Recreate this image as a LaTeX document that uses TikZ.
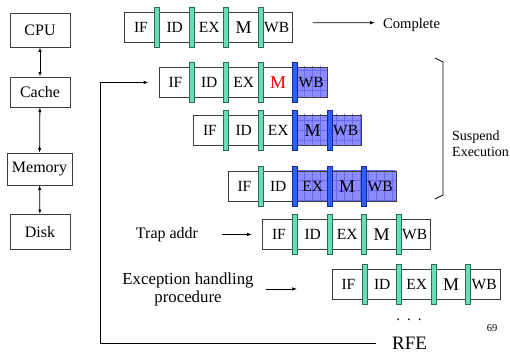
\documentclass[tikz,border=0pt]{standalone}
\usepackage{fontspec}
\setmainfont{Liberation Serif}
\newfontfamily\tnr{Liberation Serif}
\usetikzlibrary{arrows.meta}

\definecolor{latchfill}{RGB}{102,221,180}
\definecolor{latchdraw}{RGB}{40,110,85}
\definecolor{stallbar}{RGB}{45,95,250}
\definecolor{stalldraw}{RGB}{20,40,150}
\definecolor{stallfill}{RGB}{140,140,255}
\definecolor{stallgrid}{RGB}{105,105,235}
\definecolor{edge}{RGB}{60,60,60}

\newcommand\sz[1]{\tnr\fontsize{#1}{1.15\dimexpr#1pt\relax}\selectfont}

\tikzset{
  stagebox/.style={draw=edge, line width=0.9pt, rectangle, inner sep=0pt,
    minimum height=30pt, anchor=north west, font=\sz{15.5}},
  latch/.style={draw=latchdraw, fill=latchfill, line width=0.6pt},
  stall/.style={draw=stalldraw, fill=stallbar, line width=0.6pt},
  unitbox/.style={draw=edge, line width=0.9pt, inner sep=0pt, font=\sz{16}},
  lbl/.style={inner sep=0pt},
  arr/.style={-{Latex[length=5pt,width=3.6pt]}, line width=0.8pt},
  darr/.style={{Latex[length=4.5pt,width=3.4pt]}-{Latex[length=4.5pt,width=3.4pt]}, line width=0.8pt},
}

% #1 name, #2 left x, #3 top y, #4 stages that run normally, #5 colour of M
\newcommand\pipeline[5]{%
  \def\mcolour{#5}%
  \foreach \sa/\sb/\lab [count=\i] in {0/33/IF,33/67.5/ID,67.5/102/EX,102/136.5/M,136.5/168/WB}{
    \pgfmathsetmacro\w{\sb-\sa}
    \ifnum\i>#4
      \fill[stallfill] (#2+\sa,#3) rectangle (#2+\sb,#3+30);
      \begin{scope}
        \clip (#2+\sa,#3) rectangle (#2+\sb,#3+30);
        \draw[stallgrid, line width=0.5pt, xstep=8pt, ystep=10pt]
          (#2+\sa-10,#3-10) grid (#2+\sb+10,#3+40);
      \end{scope}
    \fi
    \node[stagebox, minimum width=\w pt] (#1-\i) at (#2+\sa,#3)
      {\ifnum\i=4 \raisebox{-2pt}{\textcolor{\mcolour}{\sz{18}M}}\else\lab\fi};
  }
  \foreach \cx [count=\k] in {33,67.5,102,136.5}{
    \ifnum\k<#4
      \draw[latch] (#2+\cx-2.5,#3-5) rectangle (#2+\cx+2.5,#3+35);
    \else
      \draw[stall] (#2+\cx-2.5,#3-5) rectangle (#2+\cx+2.5,#3+35);
    \fi
  }
}

\begin{document}
\begin{tikzpicture}[x=1pt,y=-1pt]
\fill[white] (0,0) rectangle (510,352);
\useasboundingbox (0,0) rectangle (510,352);

% memory hierarchy
\node[unitbox, minimum width=60pt, minimum height=34pt] (cpu) at (40,30) {CPU};
\node[unitbox, minimum width=60pt, minimum height=30pt] (cache) at (40,92) {Cache};
\node[unitbox, minimum width=65pt, minimum height=32pt] (mem) at (39.5,169) {Memory};
\node[unitbox, minimum width=60pt, minimum height=35pt] (disk) at (40,232) {Disk};
\draw[darr] (cpu) -- (cache);
\draw[darr] (cache) -- (mem);
\draw[darr] (mem) -- (disk);

% pipelines
\pipeline{ra}{124}{12}{5}{black}
\pipeline{rb}{158.5}{67}{4}{red}
\pipeline{rc}{193}{115}{3}{black}
\pipeline{rd}{227.5}{171}{2}{black}
\pipeline{re}{262}{219}{5}{black}
\pipeline{rf}{331.5}{269}{5}{black}

% completed instruction
\node[lbl, anchor=west, font=\sz{14.6}] (complete) at (383,25) {Complete};
\draw[arr] ([shift={(20,-4.6)}]ra-5.east) -- ([shift={(-8,-2.3)}]complete.west);

% suspended instructions
\draw[line width=0.8pt] (435,58) -- (443,62) -- (443,195) -- (435,199);
\node[lbl, anchor=west, align=left, font=\sz{14}] (susp) at (452,143.5) {Suspend\\Execution};

% trap
\node[lbl, anchor=base, font=\sz{16}] (trap) at (167,238.5) {Trap addr};
\path (trap.east |- re-1.west) coordinate (trapout);
\draw[arr] ([xshift=24pt]trapout) -- ([xshift=-10pt]re-1.west);

\node[lbl, align=center, font=\tnr\fontsize{16.8}{18}\selectfont] (exc) at (188,289) {Exception handling\\procedure};
\path (exc.east) coordinate (excout);
\draw[arr] ([xshift=12pt]excout) -- ([xshift=-34.5pt]excout -| rf-1.west);

\node[lbl, anchor=base, font=\sz{15}] (dots) at (409,320.5) {.\hspace{7pt}.\hspace{7pt}.};
\node[lbl, font=\sz{10.5}] (pg) at (492,328) {69};

% return from exception
\node[lbl, font=\sz{19}] (rfe) at (409.5,343) {RFE};
\path (rfe.west) coordinate (rfeout);
\coordinate (loop) at (100,344);
\draw[arr] ([xshift=-16pt]rfeout) -| (loop |- rb-1.west) -- ([xshift=-10pt]rb-1.west);
\end{tikzpicture}
\end{document}
